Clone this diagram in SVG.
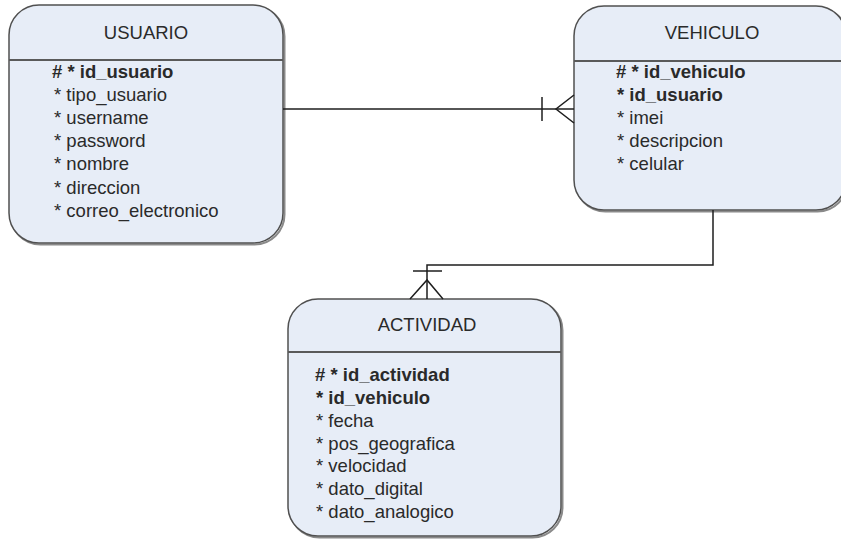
<svg xmlns="http://www.w3.org/2000/svg" width="841" height="539" viewBox="0 0 841 539">
  <style>
    .box { fill: #e7edf7; stroke: #505050; stroke-width: 1.5; }
    .shadow { fill: none; stroke: #8a8a8a; stroke-width: 2; }
    .sep { stroke: #5a5a5a; stroke-width: 2; }
    .title { font-family: "Liberation Sans", Arial, sans-serif; font-size: 18.5px; fill: #2a2a2a; text-anchor: middle; }
    .attr { font-family: "Liberation Sans", Arial, sans-serif; font-size: 18.5px; fill: #2a2a2a; }
    .key { font-weight: bold; }
    .conn { fill: none; stroke: #1e1e1e; stroke-width: 1.5; }
  </style>

  <!-- USUARIO entity -->
  <g id="usuario">
    <rect class="shadow" x="10.5" y="6.5" width="274" height="238" rx="30"/>
    <rect class="box" x="9" y="5" width="274" height="238" rx="30"/>
    <line class="sep" x1="9" y1="60" x2="283" y2="60"/>
    <text class="title" x="146" y="39">USUARIO</text>
    <text class="attr key" x="52" y="78"># * id_usuario</text>
    <text class="attr" x="54" y="101">* tipo_usuario</text>
    <text class="attr" x="54" y="124">* username</text>
    <text class="attr" x="54" y="147">* password</text>
    <text class="attr" x="54" y="170">* nombre</text>
    <text class="attr" x="54" y="194">* direccion</text>
    <text class="attr" x="54" y="217">* correo_electronico</text>
  </g>

  <!-- VEHICULO entity -->
  <g id="vehiculo">
    <rect class="shadow" x="575.5" y="7.5" width="272" height="204" rx="30"/>
    <rect class="box" x="574" y="6" width="272" height="204" rx="30"/>
    <line class="sep" x1="574" y1="61" x2="846" y2="61"/>
    <text class="title" x="712" y="39">VEHICULO</text>
    <text class="attr key" x="616" y="78"># * id_vehiculo</text>
    <text class="attr key" x="617" y="101">* id_usuario</text>
    <text class="attr" x="617" y="124">* imei</text>
    <text class="attr" x="617" y="147">* descripcion</text>
    <text class="attr" x="617" y="170">* celular</text>
  </g>

  <!-- ACTIVIDAD entity -->
  <g id="actividad">
    <rect class="shadow" x="289.5" y="300.5" width="273" height="237" rx="30"/>
    <rect class="box" x="288" y="299" width="273" height="237" rx="30"/>
    <line class="sep" x1="288" y1="352" x2="561" y2="352"/>
    <text class="title" x="427" y="331">ACTIVIDAD</text>
    <text class="attr key" x="315" y="381"># * id_actividad</text>
    <text class="attr key" x="316" y="404">* id_vehiculo</text>
    <text class="attr" x="316" y="427">* fecha</text>
    <text class="attr" x="316" y="450">* pos_geografica</text>
    <text class="attr" x="316" y="472">* velocidad</text>
    <text class="attr" x="316" y="495">* dato_digital</text>
    <text class="attr" x="316" y="518">* dato_analogico</text>
  </g>

  <!-- relationships (one-to-many, crow's foot) -->
  <g id="connectors">
    <!-- USUARIO 1 : N VEHICULO -->
    <path class="conn" d="M283 109 H574"/>
    <path class="conn" d="M542 97 V121"/>
    <path class="conn" d="M574 95 L556 109 L574 123"/>
    <!-- VEHICULO 1 : N ACTIVIDAD -->
    <path class="conn" d="M713 210 V265 H427 V299"/>
    <path class="conn" d="M413 271 H442"/>
    <path class="conn" d="M410 299 L427 280 L443 299"/>
  </g>
</svg>
